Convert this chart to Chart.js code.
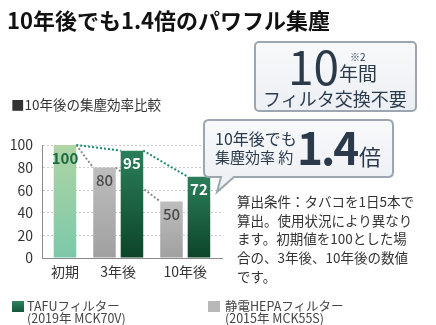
<!DOCTYPE html>
<html lang="ja">
<head>
<meta charset="utf-8">
<script src="https://cdn.jsdelivr.net/npm/chart.js"></script>
<style>
  html, body { margin: 0; padding: 0; background: #fff; }
  #wrap { position: relative; width: 436px; height: 325px; overflow: hidden;
          font-family: "Noto Sans CJK JP", sans-serif; color: #333; }
  #chart { position: absolute; left: 0; top: 0; }
  #boxes { position: absolute; left: 0; top: 0; }
  .t { position: absolute; white-space: nowrap; line-height: 1; }
  .navy { color: #2b3a4b; }
  .note { position: absolute; left: 237px; top: 192px; font-size: 13.5px; line-height: 18.7px; color: #333; white-space: nowrap; }
  .leg { position: absolute; font-size: 12.5px; line-height: 12px; color: #444; white-space: nowrap; }
  .sw { position: absolute; width: 12px; height: 11px; }
</style>
</head>
<body>
<div id="wrap">
  <canvas id="chart" width="436" height="325"></canvas>

  <!-- 吹き出し2つ -->
  <svg id="boxes" width="436" height="325">
    <defs>
      <linearGradient id="boxFill" x1="0" y1="0" x2="0" y2="1">
        <stop offset="0" stop-color="#f8f9fb"/>
        <stop offset="1" stop-color="#eceff3"/>
      </linearGradient>
    </defs>
    <rect x="255" y="42" width="161" height="69" rx="4" fill="url(#boxFill)" stroke="#9da6b0" stroke-width="2"/>
    <path d="M209 120 H388 Q393 120 393 125 V172 Q393 177 388 177 H234 L217 192 L221 177 H209 Q204 177 204 172 V125 Q204 120 209 120 Z"
          fill="url(#boxFill)" stroke="#9da6b0" stroke-width="2"/>
  </svg>

  <div class="t" style="left:7px; top:8px; font-size:22px; font-weight:700; color:#111;">10年後でも1.4倍のパワフル集塵</div>
  <div class="t" style="left:11px; top:98px; font-size:13.5px; color:#333;">■10年後の集塵効率比較</div>

  <div class="t navy" style="left:288px; top:42px; font-size:46px;">10</div>
  <div class="t navy" style="left:350px; top:52px; font-size:10px;">※2</div>
  <div class="t navy" style="left:339px; top:63px; font-size:19px;">年間</div>
  <div class="t navy" style="left:263px; top:89px; font-size:18px;">フィルタ交換不要</div>

  <div class="t navy" style="left:215px; top:130px; font-size:16px;">10年後でも</div>
  <div class="t navy" style="left:215px; top:149px; font-size:15px;">集塵効率 約</div>
  <div class="t navy" style="left:297px; top:124px; font-size:44px; font-weight:700; letter-spacing:-2px;">1.4</div>
  <div class="t navy" style="left:359px; top:144px; font-size:22px;">倍</div>

  <div class="note">算出条件：タバコを1日5本で<br>算出。使用状況により異なり<br>ます。初期値を100とした場<br>合の、3年後、10年後の数値<br>です。</div>

  <div class="sw" style="left:12px; top:301px; background:linear-gradient(#2e8560,#15553a);"></div>
  <div class="leg" style="left:27px; top:300px;">TAFUフィルター<br>(2019年 MCK70V)</div>
  <div class="sw" style="left:208px; top:301px; background:#b8b8b8;"></div>
  <div class="leg" style="left:225px; top:300px;">静電HEPAフィルター<br>(2015年 MCK55S)</div>
</div>

<script>
// 集塵効率（初期値=100）
const categories = ['初期', '3年後', '10年後'];
const tafuValues = [100, 95, 72];   // TAFUフィルター
const hepaValues = [null, 80, 50];  // 静電HEPAフィルター
const yTickStep = 20;
const yMax = 100;

const FONT = '"Noto Sans CJK JP", sans-serif';

// 棒の上端からプロット下端までの縦グラデーション
function barFill(top, bottom) {
  return function(c) {
    const chart = c.chart, area = chart.chartArea;
    if (!area || !c.parsed || c.parsed.y == null) return top;
    const y0 = chart.scales.y.getPixelForValue(c.parsed.y);
    const g = chart.ctx.createLinearGradient(0, y0, 0, area.bottom);
    g.addColorStop(0, top);
    g.addColorStop(1, bottom);
    return g;
  };
}
const grayFill  = barFill('#bdbdbd', '#a0a0a0');
const greenFill = barFill('#2b7f5a', '#0c4429');
const lightFill = barFill('#afd5a4', '#7cc8aa');

// 棒同士をつなぐ点線（棒の後ろに描く）
const connectors = {
  id: 'connectors',
  beforeDatasetsDraw(chart) {
    const ctx = chart.ctx;
    const hepa = chart.getDatasetMeta(0).data;
    const tafu = chart.getDatasetMeta(1).data;
    function seg(a, b, color) {
      ctx.beginPath();
      ctx.moveTo(a.x + a.width / 2, a.y);
      ctx.lineTo(b.x - b.width / 2, b.y);
      ctx.strokeStyle = color;
      ctx.stroke();
    }
    ctx.save();
    ctx.lineWidth = 2;
    ctx.setLineDash([2, 2]);
    seg(tafu[0], hepa[1], '#8c8c8c');
    seg(hepa[1], hepa[2], '#8c8c8c');
    seg(tafu[0], tafu[1], '#1e8a6c');
    seg(tafu[1], tafu[2], '#1e8a6c');
    ctx.restore();
  }
};

// 棒の中の数値
const valueLabels = {
  id: 'valueLabels',
  afterDatasetsDraw(chart) {
    const ctx = chart.ctx;
    ctx.save();
    ctx.textAlign = 'center';
    ctx.textBaseline = 'middle';
    chart.data.datasets.forEach(function(ds, di) {
      chart.getDatasetMeta(di).data.forEach(function(bar, i) {
        const v = ds.data[i].y;
        if (v == null) return;
        if (di === 0) {
          ctx.fillStyle = '#4a4a4a';
          ctx.font = '500 15px ' + FONT;
        } else {
          ctx.fillStyle = i === 0 ? '#1b6b46' : '#ffffff';
          ctx.font = '700 15px ' + FONT;
        }
        ctx.fillText(String(v), bar.x, bar.y + 13);
      });
    });
    ctx.restore();
  }
};

// カテゴリ名は実際に描かれた棒の中央に置く
const categoryLabels = {
  id: 'categoryLabels',
  afterDraw(chart) {
    const ctx = chart.ctx;
    const metas = [chart.getDatasetMeta(0), chart.getDatasetMeta(1)];
    ctx.save();
    ctx.font = '14px ' + FONT;
    ctx.fillStyle = '#333';
    ctx.textAlign = 'center';
    ctx.textBaseline = 'middle';
    categories.forEach(function(name, i) {
      const xs = [];
      metas.forEach(function(m, di) {
        if (chart.data.datasets[di].data[i].y != null) xs.push(m.data[i].x);
      });
      const x = xs.reduce(function(a, b) { return a + b; }, 0) / xs.length;
      ctx.fillText(name, x, chart.chartArea.bottom + 14);
    });
    ctx.restore();
  }
};

new Chart(document.getElementById('chart'), {
  type: 'bar',
  data: {
    datasets: [
      {
        label: '静電HEPAフィルター',
        data: hepaValues.map(function(v, i) { return {x: i, y: v}; }),
        backgroundColor: grayFill,
        categoryPercentage: 0.82,
        barPercentage: 0.82
      },
      {
        label: 'TAFUフィルター',
        data: tafuValues.map(function(v, i) { return {x: i, y: v}; }),
        backgroundColor: function(c) { return c.dataIndex === 0 ? lightFill(c) : greenFill(c); },
        categoryPercentage: 0.82,
        barPercentage: 0.82
      }
    ]
  },
  options: {
    responsive: false,
    animation: false,
    layout: { padding: { left: 0, right: 214, top: 145, bottom: 59 } },
    plugins: { legend: { display: false }, tooltip: { enabled: false } },
    scales: {
      x: {
        type: 'linear',
        min: -0.138,
        max: 2.549,
        offset: false,
        grid: { display: false },
        ticks: { display: false },
        border: { color: '#8c8c8c', width: 1 },
        afterBuildTicks: function(s) {
          s.ticks = categories.map(function(c, i) { return {value: i}; });
        }
      },
      y: {
        min: 0,
        max: yMax,
        ticks: { stepSize: yTickStep, padding: 9, color: '#333', font: { family: FONT, size: 14 } },
        grid: { color: '#c9c9c9', drawTicks: false },
        border: { color: '#8c8c8c', width: 1, dash: [2, 2] },
        afterFit: function(s) { s.width = 42; }
      }
    }
  },
  plugins: [connectors, valueLabels, categoryLabels]
});
</script>
</body>
</html>
